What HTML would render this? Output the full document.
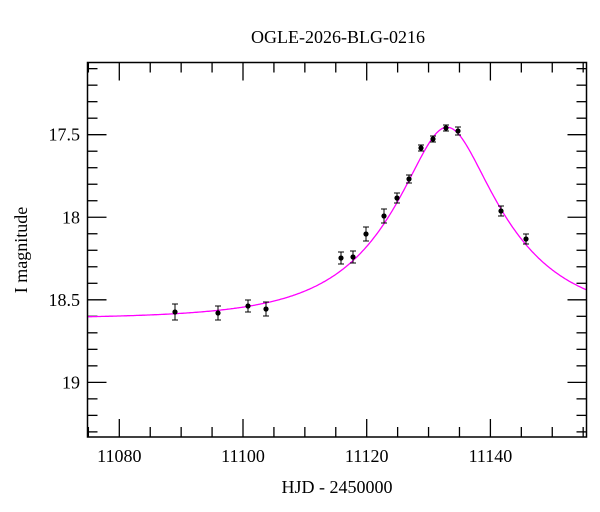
<!DOCTYPE html>
<html><head><meta charset="utf-8"><style>
html,body{margin:0;padding:0;background:#fff;}
svg{display:block;font-family:"Liberation Serif",serif;}
</style></head><body>
<svg id="s" width="600" height="512" xmlns="http://www.w3.org/2000/svg">
<text x="338" y="43" font-size="18" text-anchor="middle">OGLE-2026-BLG-0216</text>
<text x="337" y="493" font-size="18" text-anchor="middle">HJD - 2450000</text>
<text transform="translate(27,250) rotate(-90)" font-size="18" text-anchor="middle">I magnitude</text>
<g id="ticks" stroke="#000" stroke-width="1.3"></g>
<g font-size="18" id="lbl"></g>
<path id="curve" fill="none" stroke="#ff00ff" stroke-width="1.3"/>
<g id="pts"></g>
<rect x="87.5" y="62.5" width="499" height="374.5" fill="none" stroke="#000" stroke-width="1.5"/>
</svg>
<script>
var L=87.5,R=586.5,T=62.5,B=437;
function X(t){return 119.3+(t-11080)*6.185;}
function Y(m){return 134.7+(m-17.5)*165.1;}
var tk=document.getElementById('ticks'),lb=document.getElementById('lbl'),h='',l='';
for(var t=11075;t<=11155;t+=5){var x=X(t),len=(t%20==0)?18:10;
h+='<line x1="'+x+'" y1="'+B+'" x2="'+x+'" y2="'+(B-len)+'"/><line x1="'+x+'" y1="'+T+'" x2="'+x+'" y2="'+(T+len)+'"/>';
if(t%20==0)l+='<text x="'+x+'" y="462" text-anchor="middle">'+t+'</text>';}
for(var i=170;i<=194;i++){var m=i/10,y=Y(m);if(y<T+1||y>B-1)continue;var len=(i%5==0)?19:10;
h+='<line x1="'+L+'" y1="'+y+'" x2="'+(L+len)+'" y2="'+y+'"/><line x1="'+R+'" y1="'+y+'" x2="'+(R-len)+'" y2="'+y+'"/>';
if(i%5==0)l+='<text x="80" y="'+(y+6)+'" text-anchor="end">'+(m+"")+'</text>';}
tk.innerHTML=h;lb.innerHTML=l;
var d='';for(var px=L;px<=R;px+=1){var t=11080+(px-119.3)/6.185;var tau=(t-11133)/17.4,u=Math.sqrt(0.36*0.36+tau*tau);
var A=(u*u+2)/(u*Math.sqrt(u*u+4));var m=18.615-2.5*Math.log10(A);d+=(d?'L':'M')+px.toFixed(1)+' '+Y(m).toFixed(1);}
document.getElementById('curve').setAttribute('d',d);
var P=[[175,312,8],[218,313,7],[248,306,6],[266,309,7],[341,258,6],[353,257,6],[366,234,7],[384,216,7],[397,198,5],[409,179,4],[421,148,3],[433,139,3],[446,128,3],[458,131,4],[501,211,5],[526,239,5]];
var s='';P.forEach(function(p){s+='<line x1="'+p[0]+'" y1="'+(p[1]-p[2])+'" x2="'+p[0]+'" y2="'+(p[1]+p[2])+'" stroke="#000" stroke-width="1"/>'+
'<line x1="'+(p[0]-3)+'" y1="'+(p[1]-p[2])+'" x2="'+(p[0]+3)+'" y2="'+(p[1]-p[2])+'" stroke="#000"/>'+
'<line x1="'+(p[0]-3)+'" y1="'+(p[1]+p[2])+'" x2="'+(p[0]+3)+'" y2="'+(p[1]+p[2])+'" stroke="#000"/>'+
'<circle cx="'+p[0]+'" cy="'+p[1]+'" r="2.6" fill="#000"/>';});
document.getElementById('pts').innerHTML=s;
</script>
</body></html>
